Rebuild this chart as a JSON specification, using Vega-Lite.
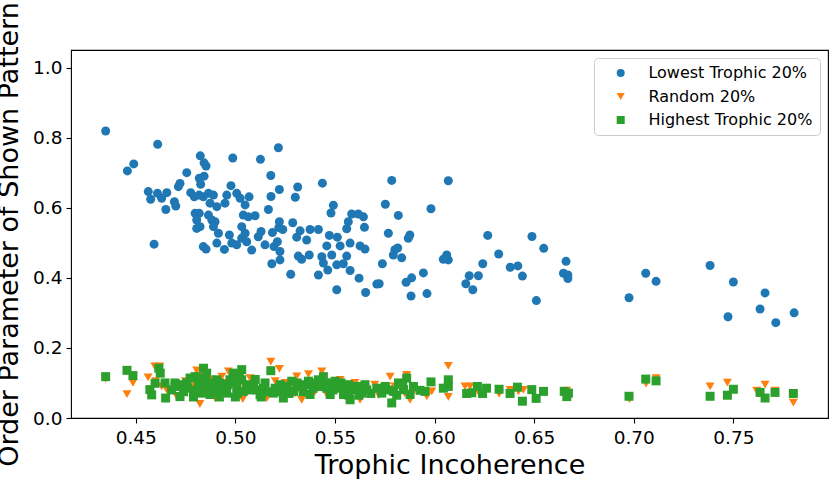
{
"$schema": "https://vega.github.io/schema/vega-lite/v6.json",
"width": 757, "height": 368,
"autosize": {"type": "none"},
"padding": {"left": 71, "top": 50, "right": 2, "bottom": 61},
"background": "white",
"config": {
  "view": {"stroke": "#000", "strokeWidth": 1.1},
  "font": "DejaVu Sans",
  "axis": {"domain": false, "grid": false, "tickColor": "#000", "tickSize": 5, "tickWidth": 1.1,
    "labelFont": "DejaVu Sans", "labelFontSize": 18.5, "labelColor": "#000",
    "titleFont": "DejaVu Sans", "titleFontSize": 27, "titleFontWeight": "normal", "titleColor": "#000"},
  "legend": {"orient": "none", "legendX": 523, "legendY": 8, "padding": 7, "strokeColor": "#cccccc",
    "fillColor": "rgba(255,255,255,0.8)", "cornerRadius": 4, "labelFont": "DejaVu Sans", "labelFontSize": 16,
    "labelColor": "#000", "labelLimit": 400, "symbolSize": 64, "symbolStrokeWidth": 0, "rowPadding": 7.5,
    "symbolOffset": 11.7, "labelOffset": 19.7, "title": null}
},
"data": {"values": [
{"series":"Lowest Trophic 20%","x":0.6976,"y":0.343},
{"series":"Lowest Trophic 20%","x":0.706,"y":0.413},
{"series":"Lowest Trophic 20%","x":0.7112,"y":0.390},
{"series":"Lowest Trophic 20%","x":0.7383,"y":0.435},
{"series":"Lowest Trophic 20%","x":0.750,"y":0.388},
{"series":"Lowest Trophic 20%","x":0.7473,"y":0.289},
{"series":"Lowest Trophic 20%","x":0.7659,"y":0.357},
{"series":"Lowest Trophic 20%","x":0.7634,"y":0.311},
{"series":"Lowest Trophic 20%","x":0.7713,"y":0.272},
{"series":"Lowest Trophic 20%","x":0.7805,"y":0.300},
{"series":"Lowest Trophic 20%","x":0.5437,"y":0.670},
{"series":"Lowest Trophic 20%","x":0.5785,"y":0.678},
{"series":"Lowest Trophic 20%","x":0.6069,"y":0.677},
{"series":"Lowest Trophic 20%","x":0.5492,"y":0.607},
{"series":"Lowest Trophic 20%","x":0.5480,"y":0.585},
{"series":"Lowest Trophic 20%","x":0.5753,"y":0.610},
{"series":"Lowest Trophic 20%","x":0.5818,"y":0.578},
{"series":"Lowest Trophic 20%","x":0.5982,"y":0.597},
{"series":"Lowest Trophic 20%","x":0.5584,"y":0.582},
{"series":"Lowest Trophic 20%","x":0.5617,"y":0.582},
{"series":"Lowest Trophic 20%","x":0.5643,"y":0.574},
{"series":"Lowest Trophic 20%","x":0.5567,"y":0.560},
{"series":"Lowest Trophic 20%","x":0.5559,"y":0.540},
{"series":"Lowest Trophic 20%","x":0.5648,"y":0.544},
{"series":"Lowest Trophic 20%","x":0.5472,"y":0.521},
{"series":"Lowest Trophic 20%","x":0.5512,"y":0.516},
{"series":"Lowest Trophic 20%","x":0.5459,"y":0.491},
{"series":"Lowest Trophic 20%","x":0.5526,"y":0.491},
{"series":"Lowest Trophic 20%","x":0.5576,"y":0.499},
{"series":"Lowest Trophic 20%","x":0.5559,"y":0.462},
{"series":"Lowest Trophic 20%","x":0.5484,"y":0.465},
{"series":"Lowest Trophic 20%","x":0.5434,"y":0.460},
{"series":"Lowest Trophic 20%","x":0.5442,"y":0.442},
{"series":"Lowest Trophic 20%","x":0.5464,"y":0.422},
{"series":"Lowest Trophic 20%","x":0.5509,"y":0.437},
{"series":"Lowest Trophic 20%","x":0.5542,"y":0.440},
{"series":"Lowest Trophic 20%","x":0.5576,"y":0.421},
{"series":"Lowest Trophic 20%","x":0.5509,"y":0.366},
{"series":"Lowest Trophic 20%","x":0.5621,"y":0.399},
{"series":"Lowest Trophic 20%","x":0.5654,"y":0.358},
{"series":"Lowest Trophic 20%","x":0.5626,"y":0.491},
{"series":"Lowest Trophic 20%","x":0.5651,"y":0.482},
{"series":"Lowest Trophic 20%","x":0.5768,"y":0.527},
{"series":"Lowest Trophic 20%","x":0.5738,"y":0.440},
{"series":"Lowest Trophic 20%","x":0.5710,"y":0.382},
{"series":"Lowest Trophic 20%","x":0.5722,"y":0.383},
{"series":"Lowest Trophic 20%","x":0.5801,"y":0.480},
{"series":"Lowest Trophic 20%","x":0.5815,"y":0.485},
{"series":"Lowest Trophic 20%","x":0.5835,"y":0.457},
{"series":"Lowest Trophic 20%","x":0.5793,"y":0.465},
{"series":"Lowest Trophic 20%","x":0.5868,"y":0.513},
{"series":"Lowest Trophic 20%","x":0.5876,"y":0.522},
{"series":"Lowest Trophic 20%","x":0.5857,"y":0.387},
{"series":"Lowest Trophic 20%","x":0.5885,"y":0.400},
{"series":"Lowest Trophic 20%","x":0.5882,"y":0.348},
{"series":"Lowest Trophic 20%","x":0.5962,"y":0.355},
{"series":"Lowest Trophic 20%","x":0.5944,"y":0.414},
{"series":"Lowest Trophic 20%","x":0.6061,"y":0.465},
{"series":"Lowest Trophic 20%","x":0.6069,"y":0.451},
{"series":"Lowest Trophic 20%","x":0.6044,"y":0.453},
{"series":"Lowest Trophic 20%","x":0.6267,"y":0.521},
{"series":"Lowest Trophic 20%","x":0.6322,"y":0.468},
{"series":"Lowest Trophic 20%","x":0.6242,"y":0.440},
{"series":"Lowest Trophic 20%","x":0.6157,"y":0.383},
{"series":"Lowest Trophic 20%","x":0.6174,"y":0.406},
{"series":"Lowest Trophic 20%","x":0.6192,"y":0.366},
{"series":"Lowest Trophic 20%","x":0.6220,"y":0.406},
{"series":"Lowest Trophic 20%","x":0.6380,"y":0.430},
{"series":"Lowest Trophic 20%","x":0.6418,"y":0.434},
{"series":"Lowest Trophic 20%","x":0.6441,"y":0.405},
{"series":"Lowest Trophic 20%","x":0.6489,"y":0.518},
{"series":"Lowest Trophic 20%","x":0.6548,"y":0.484},
{"series":"Lowest Trophic 20%","x":0.6511,"y":0.335},
{"series":"Lowest Trophic 20%","x":0.6660,"y":0.447},
{"series":"Lowest Trophic 20%","x":0.6647,"y":0.413},
{"series":"Lowest Trophic 20%","x":0.6669,"y":0.408},
{"series":"Lowest Trophic 20%","x":0.6669,"y":0.398},
{"series":"Lowest Trophic 20%","x":0.4349,"y":0.819},
{"series":"Lowest Trophic 20%","x":0.4610,"y":0.781},
{"series":"Lowest Trophic 20%","x":0.4458,"y":0.705},
{"series":"Lowest Trophic 20%","x":0.4490,"y":0.725},
{"series":"Lowest Trophic 20%","x":0.4824,"y":0.748},
{"series":"Lowest Trophic 20%","x":0.4843,"y":0.728},
{"series":"Lowest Trophic 20%","x":0.4853,"y":0.719},
{"series":"Lowest Trophic 20%","x":0.4987,"y":0.742},
{"series":"Lowest Trophic 20%","x":0.5126,"y":0.738},
{"series":"Lowest Trophic 20%","x":0.5216,"y":0.771},
{"series":"Lowest Trophic 20%","x":0.4756,"y":0.700},
{"series":"Lowest Trophic 20%","x":0.5178,"y":0.692},
{"series":"Lowest Trophic 20%","x":0.4819,"y":0.684},
{"series":"Lowest Trophic 20%","x":0.4843,"y":0.690},
{"series":"Lowest Trophic 20%","x":0.4826,"y":0.667},
{"series":"Lowest Trophic 20%","x":0.4722,"y":0.669},
{"series":"Lowest Trophic 20%","x":0.4714,"y":0.660},
{"series":"Lowest Trophic 20%","x":0.4978,"y":0.663},
{"series":"Lowest Trophic 20%","x":0.5221,"y":0.652},
{"series":"Lowest Trophic 20%","x":0.5313,"y":0.659},
{"series":"Lowest Trophic 20%","x":0.5179,"y":0.632},
{"series":"Lowest Trophic 20%","x":0.5301,"y":0.630},
{"series":"Lowest Trophic 20%","x":0.4776,"y":0.643},
{"series":"Lowest Trophic 20%","x":0.4794,"y":0.631},
{"series":"Lowest Trophic 20%","x":0.4818,"y":0.636},
{"series":"Lowest Trophic 20%","x":0.4839,"y":0.631},
{"series":"Lowest Trophic 20%","x":0.5218,"y":0.543},
{"series":"Lowest Trophic 20%","x":0.4563,"y":0.646},
{"series":"Lowest Trophic 20%","x":0.4575,"y":0.624},
{"series":"Lowest Trophic 20%","x":0.4609,"y":0.641},
{"series":"Lowest Trophic 20%","x":0.4630,"y":0.627},
{"series":"Lowest Trophic 20%","x":0.4656,"y":0.643},
{"series":"Lowest Trophic 20%","x":0.4651,"y":0.595},
{"series":"Lowest Trophic 20%","x":0.4694,"y":0.617},
{"series":"Lowest Trophic 20%","x":0.4701,"y":0.605},
{"series":"Lowest Trophic 20%","x":0.4592,"y":0.496},
{"series":"Lowest Trophic 20%","x":0.4865,"y":0.641},
{"series":"Lowest Trophic 20%","x":0.4890,"y":0.636},
{"series":"Lowest Trophic 20%","x":0.4873,"y":0.613},
{"series":"Lowest Trophic 20%","x":0.4907,"y":0.603},
{"series":"Lowest Trophic 20%","x":0.4948,"y":0.613},
{"series":"Lowest Trophic 20%","x":0.4957,"y":0.636},
{"series":"Lowest Trophic 20%","x":0.5007,"y":0.641},
{"series":"Lowest Trophic 20%","x":0.5024,"y":0.627},
{"series":"Lowest Trophic 20%","x":0.5049,"y":0.608},
{"series":"Lowest Trophic 20%","x":0.5069,"y":0.631},
{"series":"Lowest Trophic 20%","x":0.5166,"y":0.595},
{"series":"Lowest Trophic 20%","x":0.4798,"y":0.584},
{"series":"Lowest Trophic 20%","x":0.4819,"y":0.584},
{"series":"Lowest Trophic 20%","x":0.4806,"y":0.565},
{"series":"Lowest Trophic 20%","x":0.4823,"y":0.546},
{"series":"Lowest Trophic 20%","x":0.4806,"y":0.541},
{"series":"Lowest Trophic 20%","x":0.4865,"y":0.579},
{"series":"Lowest Trophic 20%","x":0.4882,"y":0.565},
{"series":"Lowest Trophic 20%","x":0.4898,"y":0.560},
{"series":"Lowest Trophic 20%","x":0.4890,"y":0.546},
{"series":"Lowest Trophic 20%","x":0.4915,"y":0.527},
{"series":"Lowest Trophic 20%","x":0.4907,"y":0.499},
{"series":"Lowest Trophic 20%","x":0.4839,"y":0.489},
{"series":"Lowest Trophic 20%","x":0.4853,"y":0.482},
{"series":"Lowest Trophic 20%","x":0.4945,"y":0.481},
{"series":"Lowest Trophic 20%","x":0.4970,"y":0.522},
{"series":"Lowest Trophic 20%","x":0.4982,"y":0.499},
{"series":"Lowest Trophic 20%","x":0.5007,"y":0.494},
{"series":"Lowest Trophic 20%","x":0.5032,"y":0.513},
{"series":"Lowest Trophic 20%","x":0.5032,"y":0.546},
{"series":"Lowest Trophic 20%","x":0.5040,"y":0.579},
{"series":"Lowest Trophic 20%","x":0.5065,"y":0.574},
{"series":"Lowest Trophic 20%","x":0.5099,"y":0.577},
{"series":"Lowest Trophic 20%","x":0.5049,"y":0.527},
{"series":"Lowest Trophic 20%","x":0.5057,"y":0.503},
{"series":"Lowest Trophic 20%","x":0.5082,"y":0.479},
{"series":"Lowest Trophic 20%","x":0.5115,"y":0.517},
{"series":"Lowest Trophic 20%","x":0.5129,"y":0.532},
{"series":"Lowest Trophic 20%","x":0.5149,"y":0.494},
{"series":"Lowest Trophic 20%","x":0.5194,"y":0.489},
{"series":"Lowest Trophic 20%","x":0.5186,"y":0.529},
{"series":"Lowest Trophic 20%","x":0.5211,"y":0.503},
{"series":"Lowest Trophic 20%","x":0.5221,"y":0.560},
{"series":"Lowest Trophic 20%","x":0.5238,"y":0.538},
{"series":"Lowest Trophic 20%","x":0.5224,"y":0.475},
{"series":"Lowest Trophic 20%","x":0.5224,"y":0.451},
{"series":"Lowest Trophic 20%","x":0.5183,"y":0.440},
{"series":"Lowest Trophic 20%","x":0.5288,"y":0.557},
{"series":"Lowest Trophic 20%","x":0.5325,"y":0.534},
{"series":"Lowest Trophic 20%","x":0.5308,"y":0.516},
{"series":"Lowest Trophic 20%","x":0.5358,"y":0.508},
{"series":"Lowest Trophic 20%","x":0.5375,"y":0.538},
{"series":"Lowest Trophic 20%","x":0.5417,"y":0.538},
{"series":"Lowest Trophic 20%","x":0.5316,"y":0.462},
{"series":"Lowest Trophic 20%","x":0.5333,"y":0.453},
{"series":"Lowest Trophic 20%","x":0.5371,"y":0.465},
{"series":"Lowest Trophic 20%","x":0.5278,"y":0.410},
{"series":"Lowest Trophic 20%","x":0.5417,"y":0.408},
{"series":"Random 20%","x":0.4349,"y":0.112},
{"series":"Random 20%","x":0.4456,"y":0.068},
{"series":"Random 20%","x":0.4486,"y":0.100},
{"series":"Random 20%","x":0.4562,"y":0.116},
{"series":"Random 20%","x":0.4596,"y":0.147},
{"series":"Random 20%","x":0.4621,"y":0.147},
{"series":"Random 20%","x":0.4655,"y":0.081},
{"series":"Random 20%","x":0.4705,"y":0.062},
{"series":"Random 20%","x":0.4822,"y":0.040},
{"series":"Random 20%","x":0.4898,"y":0.057},
{"series":"Random 20%","x":0.4932,"y":0.118},
{"series":"Random 20%","x":0.4965,"y":0.133},
{"series":"Random 20%","x":0.5037,"y":0.054},
{"series":"Random 20%","x":0.4806,"y":0.136},
{"series":"Random 20%","x":0.4815,"y":0.121},
{"series":"Random 20%","x":0.5178,"y":0.161},
{"series":"Random 20%","x":0.5221,"y":0.140},
{"series":"Random 20%","x":0.5308,"y":0.119},
{"series":"Random 20%","x":0.5367,"y":0.125},
{"series":"Random 20%","x":0.5434,"y":0.133},
{"series":"Random 20%","x":0.5074,"y":0.114},
{"series":"Random 20%","x":0.5158,"y":0.057},
{"series":"Random 20%","x":0.5333,"y":0.052},
{"series":"Random 20%","x":0.5777,"y":0.118},
{"series":"Random 20%","x":0.5860,"y":0.123},
{"series":"Random 20%","x":0.5626,"y":0.052},
{"series":"Random 20%","x":0.5877,"y":0.052},
{"series":"Random 20%","x":0.5760,"y":0.090},
{"series":"Random 20%","x":0.5250,"y":0.100},
{"series":"Random 20%","x":0.5526,"y":0.109},
{"series":"Random 20%","x":0.5459,"y":0.067},
{"series":"Random 20%","x":0.6069,"y":0.149},
{"series":"Random 20%","x":0.6069,"y":0.060},
{"series":"Random 20%","x":0.5986,"y":0.076},
{"series":"Random 20%","x":0.5961,"y":0.062},
{"series":"Random 20%","x":0.6153,"y":0.090},
{"series":"Random 20%","x":0.6178,"y":0.090},
{"series":"Random 20%","x":0.6228,"y":0.066},
{"series":"Random 20%","x":0.6379,"y":0.080},
{"series":"Random 20%","x":0.6421,"y":0.076},
{"series":"Random 20%","x":0.6446,"y":0.080},
{"series":"Random 20%","x":0.6324,"y":0.069},
{"series":"Random 20%","x":0.6978,"y":0.054},
{"series":"Random 20%","x":0.7062,"y":0.098},
{"series":"Random 20%","x":0.7112,"y":0.114},
{"series":"Random 20%","x":0.7383,"y":0.090},
{"series":"Random 20%","x":0.7470,"y":0.101},
{"series":"Random 20%","x":0.7659,"y":0.095},
{"series":"Random 20%","x":0.7801,"y":0.044},
{"series":"Random 20%","x":0.7617,"y":0.078},
{"series":"Random 20%","x":0.7709,"y":0.078},
{"series":"Random 20%","x":0.6663,"y":0.078},
{"series":"Random 20%","x":0.4700,"y":0.095},
{"series":"Random 20%","x":0.4750,"y":0.105},
{"series":"Random 20%","x":0.4780,"y":0.090},
{"series":"Random 20%","x":0.4850,"y":0.085},
{"series":"Random 20%","x":0.4880,"y":0.110},
{"series":"Random 20%","x":0.4910,"y":0.090},
{"series":"Random 20%","x":0.4950,"y":0.100},
{"series":"Random 20%","x":0.5000,"y":0.105},
{"series":"Random 20%","x":0.5050,"y":0.085},
{"series":"Random 20%","x":0.5100,"y":0.095},
{"series":"Random 20%","x":0.5130,"y":0.075},
{"series":"Random 20%","x":0.5200,"y":0.105},
{"series":"Random 20%","x":0.5270,"y":0.085},
{"series":"Random 20%","x":0.5300,"y":0.070},
{"series":"Random 20%","x":0.5350,"y":0.090},
{"series":"Random 20%","x":0.5400,"y":0.075},
{"series":"Random 20%","x":0.5440,"y":0.095},
{"series":"Random 20%","x":0.5500,"y":0.090},
{"series":"Random 20%","x":0.5560,"y":0.080},
{"series":"Random 20%","x":0.5600,"y":0.100},
{"series":"Random 20%","x":0.5650,"y":0.075},
{"series":"Random 20%","x":0.5700,"y":0.095},
{"series":"Random 20%","x":0.5720,"y":0.065},
{"series":"Random 20%","x":0.5800,"y":0.090},
{"series":"Random 20%","x":0.5850,"y":0.070},
{"series":"Random 20%","x":0.5900,"y":0.080},
{"series":"Random 20%","x":0.4600,"y":0.105},
{"series":"Random 20%","x":0.4630,"y":0.090},
{"series":"Highest Trophic 20%","x":0.4349,"y":0.118},
{"series":"Highest Trophic 20%","x":0.4456,"y":0.136},
{"series":"Highest Trophic 20%","x":0.4486,"y":0.121},
{"series":"Highest Trophic 20%","x":0.4623,"y":0.128},
{"series":"Highest Trophic 20%","x":0.4616,"y":0.142},
{"series":"Highest Trophic 20%","x":0.4571,"y":0.081},
{"series":"Highest Trophic 20%","x":0.4580,"y":0.066},
{"series":"Highest Trophic 20%","x":0.4597,"y":0.099},
{"series":"Highest Trophic 20%","x":0.4647,"y":0.100},
{"series":"Highest Trophic 20%","x":0.4650,"y":0.057},
{"series":"Highest Trophic 20%","x":0.4697,"y":0.100},
{"series":"Highest Trophic 20%","x":0.4697,"y":0.090},
{"series":"Highest Trophic 20%","x":0.4722,"y":0.095},
{"series":"Highest Trophic 20%","x":0.4722,"y":0.061},
{"series":"Highest Trophic 20%","x":0.4756,"y":0.100},
{"series":"Highest Trophic 20%","x":0.4773,"y":0.114},
{"series":"Highest Trophic 20%","x":0.4798,"y":0.118},
{"series":"Highest Trophic 20%","x":0.4815,"y":0.095},
{"series":"Highest Trophic 20%","x":0.4840,"y":0.142},
{"series":"Highest Trophic 20%","x":0.4840,"y":0.114},
{"series":"Highest Trophic 20%","x":0.4832,"y":0.071},
{"series":"Highest Trophic 20%","x":0.4856,"y":0.128},
{"series":"Highest Trophic 20%","x":0.4856,"y":0.090},
{"series":"Highest Trophic 20%","x":0.4882,"y":0.100},
{"series":"Highest Trophic 20%","x":0.4873,"y":0.067},
{"series":"Highest Trophic 20%","x":0.4906,"y":0.109},
{"series":"Highest Trophic 20%","x":0.4906,"y":0.076},
{"series":"Highest Trophic 20%","x":0.4931,"y":0.090},
{"series":"Highest Trophic 20%","x":0.4956,"y":0.071},
{"series":"Highest Trophic 20%","x":0.4973,"y":0.109},
{"series":"Highest Trophic 20%","x":0.4990,"y":0.128},
{"series":"Highest Trophic 20%","x":0.5007,"y":0.085},
{"series":"Highest Trophic 20%","x":0.5032,"y":0.138},
{"series":"Highest Trophic 20%","x":0.5032,"y":0.109},
{"series":"Highest Trophic 20%","x":0.5040,"y":0.076},
{"series":"Highest Trophic 20%","x":0.5057,"y":0.095},
{"series":"Highest Trophic 20%","x":0.5091,"y":0.090},
{"series":"Highest Trophic 20%","x":0.5124,"y":0.066},
{"series":"Highest Trophic 20%","x":0.5149,"y":0.100},
{"series":"Highest Trophic 20%","x":0.5178,"y":0.135},
{"series":"Highest Trophic 20%","x":0.5191,"y":0.071},
{"series":"Highest Trophic 20%","x":0.5225,"y":0.095},
{"series":"Highest Trophic 20%","x":0.5241,"y":0.057},
{"series":"Highest Trophic 20%","x":0.5283,"y":0.105},
{"series":"Highest Trophic 20%","x":0.5292,"y":0.076},
{"series":"Highest Trophic 20%","x":0.5325,"y":0.090},
{"series":"Highest Trophic 20%","x":0.5367,"y":0.105},
{"series":"Highest Trophic 20%","x":0.5375,"y":0.067},
{"series":"Highest Trophic 20%","x":0.5417,"y":0.109},
{"series":"Highest Trophic 20%","x":0.5442,"y":0.118},
{"series":"Highest Trophic 20%","x":0.5459,"y":0.085},
{"series":"Highest Trophic 20%","x":0.5476,"y":0.067},
{"series":"Highest Trophic 20%","x":0.5501,"y":0.105},
{"series":"Highest Trophic 20%","x":0.5518,"y":0.085},
{"series":"Highest Trophic 20%","x":0.5543,"y":0.067},
{"series":"Highest Trophic 20%","x":0.5576,"y":0.052},
{"series":"Highest Trophic 20%","x":0.5568,"y":0.095},
{"series":"Highest Trophic 20%","x":0.5610,"y":0.090},
{"series":"Highest Trophic 20%","x":0.5635,"y":0.071},
{"series":"Highest Trophic 20%","x":0.5651,"y":0.095},
{"series":"Highest Trophic 20%","x":0.5710,"y":0.085},
{"series":"Highest Trophic 20%","x":0.5735,"y":0.071},
{"series":"Highest Trophic 20%","x":0.5752,"y":0.090},
{"series":"Highest Trophic 20%","x":0.5785,"y":0.043},
{"series":"Highest Trophic 20%","x":0.5794,"y":0.076},
{"series":"Highest Trophic 20%","x":0.5819,"y":0.100},
{"series":"Highest Trophic 20%","x":0.5844,"y":0.081},
{"series":"Highest Trophic 20%","x":0.5860,"y":0.114},
{"series":"Highest Trophic 20%","x":0.5877,"y":0.067},
{"series":"Highest Trophic 20%","x":0.5894,"y":0.090},
{"series":"Highest Trophic 20%","x":0.5952,"y":0.076},
{"series":"Highest Trophic 20%","x":0.5982,"y":0.103},
{"series":"Highest Trophic 20%","x":0.5927,"y":0.079},
{"series":"Highest Trophic 20%","x":0.6069,"y":0.109},
{"series":"Highest Trophic 20%","x":0.6069,"y":0.090},
{"series":"Highest Trophic 20%","x":0.6044,"y":0.085},
{"series":"Highest Trophic 20%","x":0.6161,"y":0.070},
{"series":"Highest Trophic 20%","x":0.6187,"y":0.072},
{"series":"Highest Trophic 20%","x":0.6215,"y":0.090},
{"series":"Highest Trophic 20%","x":0.6241,"y":0.070},
{"series":"Highest Trophic 20%","x":0.6261,"y":0.085},
{"series":"Highest Trophic 20%","x":0.6324,"y":0.082},
{"series":"Highest Trophic 20%","x":0.6379,"y":0.070},
{"series":"Highest Trophic 20%","x":0.6416,"y":0.088},
{"series":"Highest Trophic 20%","x":0.6441,"y":0.048},
{"series":"Highest Trophic 20%","x":0.6488,"y":0.081},
{"series":"Highest Trophic 20%","x":0.6510,"y":0.056},
{"series":"Highest Trophic 20%","x":0.6547,"y":0.076},
{"series":"Highest Trophic 20%","x":0.6651,"y":0.076},
{"series":"Highest Trophic 20%","x":0.6664,"y":0.061},
{"series":"Highest Trophic 20%","x":0.6672,"y":0.071},
{"series":"Highest Trophic 20%","x":0.6976,"y":0.062},
{"series":"Highest Trophic 20%","x":0.7060,"y":0.111},
{"series":"Highest Trophic 20%","x":0.7112,"y":0.106},
{"series":"Highest Trophic 20%","x":0.7383,"y":0.062},
{"series":"Highest Trophic 20%","x":0.7470,"y":0.065},
{"series":"Highest Trophic 20%","x":0.7500,"y":0.082},
{"series":"Highest Trophic 20%","x":0.7634,"y":0.073},
{"series":"Highest Trophic 20%","x":0.7659,"y":0.057},
{"series":"Highest Trophic 20%","x":0.7709,"y":0.073},
{"series":"Highest Trophic 20%","x":0.7801,"y":0.070},
{"series":"Highest Trophic 20%","x":0.4680,"y":0.080},
{"series":"Highest Trophic 20%","x":0.4740,"y":0.075},
{"series":"Highest Trophic 20%","x":0.4760,"y":0.085},
{"series":"Highest Trophic 20%","x":0.4790,"y":0.080},
{"series":"Highest Trophic 20%","x":0.4850,"y":0.105},
{"series":"Highest Trophic 20%","x":0.4870,"y":0.080},
{"series":"Highest Trophic 20%","x":0.4920,"y":0.100},
{"series":"Highest Trophic 20%","x":0.4940,"y":0.080},
{"series":"Highest Trophic 20%","x":0.4960,"y":0.095},
{"series":"Highest Trophic 20%","x":0.4990,"y":0.100},
{"series":"Highest Trophic 20%","x":0.5010,"y":0.070},
{"series":"Highest Trophic 20%","x":0.5020,"y":0.115},
{"series":"Highest Trophic 20%","x":0.5070,"y":0.080},
{"series":"Highest Trophic 20%","x":0.5100,"y":0.110},
{"series":"Highest Trophic 20%","x":0.5110,"y":0.080},
{"series":"Highest Trophic 20%","x":0.5140,"y":0.085},
{"series":"Highest Trophic 20%","x":0.5160,"y":0.075},
{"series":"Highest Trophic 20%","x":0.5200,"y":0.085},
{"series":"Highest Trophic 20%","x":0.5260,"y":0.090},
{"series":"Highest Trophic 20%","x":0.5270,"y":0.070},
{"series":"Highest Trophic 20%","x":0.5310,"y":0.100},
{"series":"Highest Trophic 20%","x":0.5340,"y":0.075},
{"series":"Highest Trophic 20%","x":0.5350,"y":0.095},
{"series":"Highest Trophic 20%","x":0.5390,"y":0.085},
{"series":"Highest Trophic 20%","x":0.5400,"y":0.100},
{"series":"Highest Trophic 20%","x":0.5430,"y":0.090},
{"series":"Highest Trophic 20%","x":0.5450,"y":0.100},
{"series":"Highest Trophic 20%","x":0.5480,"y":0.100},
{"series":"Highest Trophic 20%","x":0.5490,"y":0.080},
{"series":"Highest Trophic 20%","x":0.5530,"y":0.100},
{"series":"Highest Trophic 20%","x":0.5550,"y":0.075},
{"series":"Highest Trophic 20%","x":0.5590,"y":0.080},
{"series":"Highest Trophic 20%","x":0.5620,"y":0.065},
{"series":"Highest Trophic 20%","x":0.5660,"y":0.080},
{"series":"Highest Trophic 20%","x":0.5680,"y":0.070},
{"series":"Highest Trophic 20%","x":0.5770,"y":0.080},
{"series":"Highest Trophic 20%","x":0.5810,"y":0.065},
{"series":"Highest Trophic 20%","x":0.5840,"y":0.095},
{"series":"Highest Trophic 20%","x":0.4920,"y":0.060},
{"series":"Highest Trophic 20%","x":0.5000,"y":0.060},
{"series":"Highest Trophic 20%","x":0.5130,"y":0.060},
{"series":"Highest Trophic 20%","x":0.5230,"y":0.075},
{"series":"Highest Trophic 20%","x":0.5570,"y":0.065},
{"series":"Highest Trophic 20%","x":0.4790,"y":0.060}
]},
"mark": {"type": "point", "filled": true, "opacity": 1, "size": 81, "strokeWidth": 0},
"encoding": {
  "x": {"field": "x", "type": "quantitative",
    "scale": {"domain": [0.4175, 0.7975], "nice": false, "zero": false},
    "axis": {"values": [0.45, 0.5, 0.55, 0.6, 0.65, 0.7, 0.75], "format": ".2f", "title": "Trophic Incoherence",
      "labelPadding": 5, "titleY": 55, "titleBaseline": "alphabetic"}},
  "y": {"field": "y", "type": "quantitative",
    "scale": {"domain": [0, 1.05], "nice": false, "zero": false},
    "axis": {"values": [0, 0.2, 0.4, 0.6, 0.8, 1.0], "format": ".1f", "title": "Order Parameter of Shown Pattern",
      "labelPadding": 4, "titleX": -54, "titleBaseline": "alphabetic"}},
  "color": {"field": "series", "type": "nominal",
    "scale": {"domain": ["Lowest Trophic 20%", "Random 20%", "Highest Trophic 20%"], "range": ["#1f77b4", "#ff7f0e", "#2ca02c"]}},
  "shape": {"field": "series", "type": "nominal",
    "scale": {"domain": ["Lowest Trophic 20%", "Random 20%", "Highest Trophic 20%"], "range": ["circle", "triangle-down", "square"]}}
}
}
